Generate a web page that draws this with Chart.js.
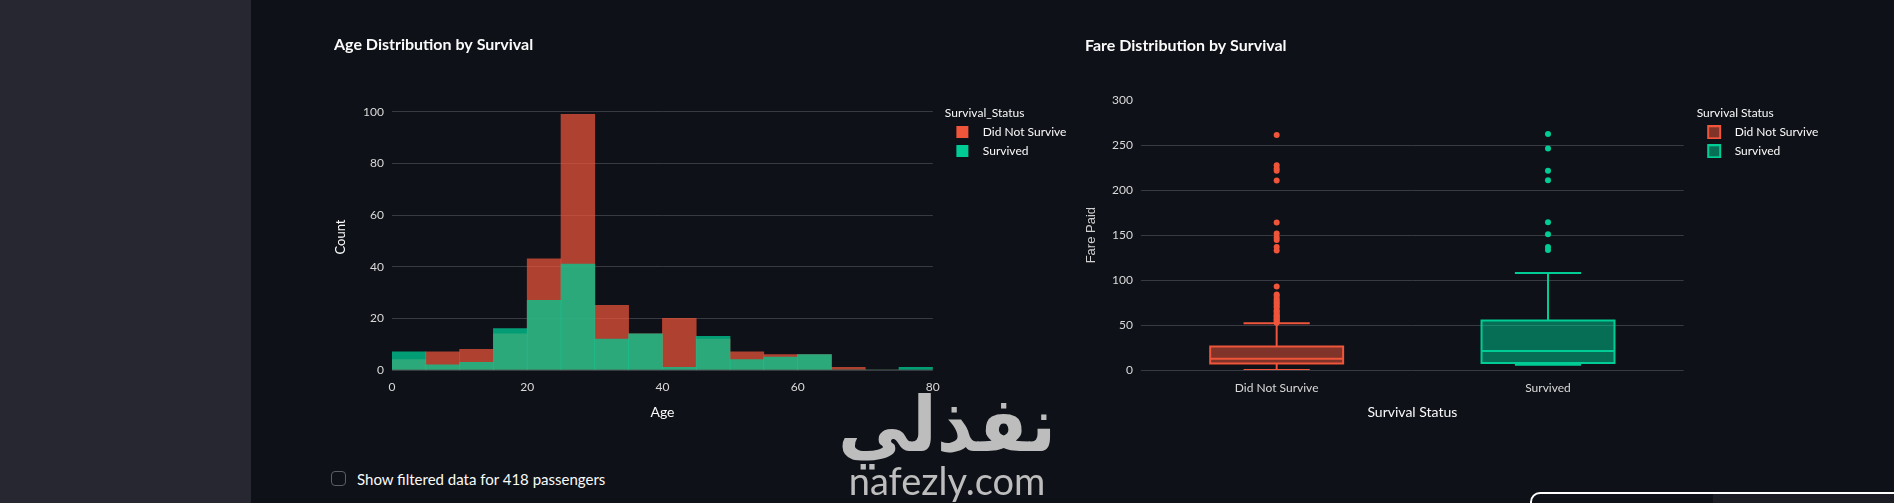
<!DOCTYPE html>
<html>
<head>
<meta charset="utf-8">
<script src="https://cdn.jsdelivr.net/npm/chart.js@4.4.0/dist/chart.umd.min.js"></script>
<style>
  html, body { margin: 0; padding: 0; width: 1894px; height: 503px; overflow: hidden; background: #0e1117; font-family: Lato, "Open Sans", sans-serif; }
  #sidebar { position: absolute; left: 0; top: 0; width: 251px; height: 503px; background: #262730; }
  #ageChart { position: absolute; left: 334px; top: 20px; }
  #fareChart { position: absolute; left: 1085px; top: 20px; }
  .chk { position: absolute; left: 331px; top: 471px; width: 13px; height: 13px; border: 1px solid #5b5e67; border-radius: 4px; }
  .chk-label { position: absolute; left: 357px; top: 469px; font-size: 15px; line-height: 20px; color: #fafafa; }
  .wm-ar { position: absolute; left: 797px; width: 300px; top: 397px; text-align: center; font-family: "DejaVu Sans", sans-serif; font-weight: bold; font-size: 62px; line-height: 1; color: #bdbdbd; transform: scale(1.15, 1.23); transform-origin: 50% 42px; }
  .wm-en { position: absolute; left: 797px; width: 300px; top: 461px; text-align: center; font-family: Lato, sans-serif; font-size: 38px; line-height: 1; color: #bdbdbd; }
  .panel { position: absolute; left: 1530px; top: 492px; width: 370px; height: 30px; border: 2px solid #ffffff; border-radius: 10px; background: linear-gradient(to right, #0e1117 181px, #1c1d24 181px); }
</style>
</head>
<body>
<div id="sidebar"></div>
<canvas id="ageChart" width="733" height="420"></canvas>
<canvas id="fareChart" width="734" height="420"></canvas>
<div class="chk"></div>
<div class="chk-label">Show filtered data for 418 passengers</div>
<div class="wm-ar">نفذلي</div>
<div class="wm-en">nafezly.com</div>
<div class="panel"></div>
<script>
// age histogram (counts per 5-year bin)
const ageBinStart = [0, 5, 10, 15, 20, 25, 30, 35, 40, 45, 50, 55, 60, 65, 70, 75];
const ageBinWidth = 5;
const ageDied = [4, 7, 8, 14, 43, 99, 25, 14, 20, 12, 7, 6, 6, 1, 0, 0];
const ageSurvived = [7, 2, 3, 16, 27, 41, 12, 14, 1, 13, 4, 5, 6, 0, 0, 1];
const ageTicks = [0, 20, 40, 60, 80];
const countTicks = [0, 20, 40, 60, 80, 100];

// fare box plot
const fareGroups = ['Did Not Survive', 'Survived'];
const fareLower = [0, 5.8];
const fareQ1 = [7.3, 7.8];
const fareMedian = [12.6, 21];
const fareQ3 = [26.1, 55];
const fareUpper = [51.9, 108];
const fareOutDied = [261.5, 227.8, 224.1, 221.5, 210.7, 164.2, 151.8, 147.5, 144.5, 136.8, 133,
  92.8, 84, 82.3, 79.2, 77.3, 75.2, 73.5, 71.3, 69.6, 66.6, 65, 63.4, 61.4, 60, 59.4, 57.8, 56.5, 55.4, 53.1, 52.6];
const fareOutSurvived = [262.4, 246.5, 221.5, 211, 164.4, 151, 136.8, 133.5];
const fareTicks = [0, 50, 100, 150, 200, 250, 300];

const FONT = 'Lato, "Open Sans", sans-serif';
const RED = '#ef553b';
const GREEN = '#00cc96';
const TICK = '#d9d9d9';
const TXT = '#fafafa';
const GRID = '#383b43';

Chart.defaults.font.family = FONT;

function swatch(fill, stroke, offset, size) {
  const c = document.createElement('canvas');
  c.width = 26;
  c.height = size;
  const g = c.getContext('2d');
  g.fillStyle = fill;
  g.fillRect(offset, 0, size, size);
  if (stroke) {
    g.strokeStyle = stroke;
    g.lineWidth = 2;
    g.strokeRect(offset + 1, 1, size - 2, size - 2);
  }
  return c;
}

function legendOpts(title, titleTop, items) {
  return {
    position: 'right',
    align: 'start',
    fullSize: false,
    title: { display: true, text: title, position: 'start', color: TXT, font: { size: 12, lineHeight: 1 }, padding: { top: titleTop, bottom: 0 } },
    labels: { usePointStyle: true, pointStyleWidth: 25, padding: 7, color: TXT, font: { size: 12 }, generateLabels: () => items },
  };
}

function gapAxis(w) {
  return {
    position: 'right', display: true,
    ticks: { display: false }, grid: { display: false, drawTicks: false }, border: { display: false },
    afterFit: (s) => { s.width = w; },
  };
}

// ---------- histogram ----------
const binCenter = ageBinStart.map((s) => s + ageBinWidth / 2);
const ageLegend = [
  { text: 'Did Not Survive', fillStyle: RED, strokeStyle: RED, lineWidth: 0, hidden: false, datasetIndex: 0, fontColor: TXT, pointStyle: swatch(RED, null, 5, 12) },
  { text: 'Survived', fillStyle: GREEN, strokeStyle: GREEN, lineWidth: 0, hidden: false, datasetIndex: 1, fontColor: TXT, pointStyle: swatch(GREEN, null, 5, 12) },
];

new Chart(document.getElementById('ageChart'), {
  type: 'bar',
  data: {
    datasets: [
      {
        label: 'Did Not Survive',
        data: binCenter.map((x, i) => ({ x, y: ageDied[i] })),
        backgroundColor: 'rgba(239, 85, 59, 0.72)',
        borderWidth: 0, grouped: false, barPercentage: 1, categoryPercentage: 1,
        order: 2, xAxisID: 'x', yAxisID: 'y',
      },
      {
        label: 'Survived',
        data: binCenter.map((x, i) => ({ x, y: ageSurvived[i] })),
        backgroundColor: 'rgba(0, 204, 150, 0.75)',
        borderWidth: 0, grouped: false, barPercentage: 1, categoryPercentage: 1,
        order: 1, xAxisID: 'x', yAxisID: 'y',
      },
    ],
  },
  options: {
    responsive: false, animation: false, devicePixelRatio: 1,
    layout: { padding: 0 },
    plugins: {
      tooltip: { enabled: false },
      title: { display: true, text: 'Age Distribution by Survival', align: 'start', color: TXT, font: { size: 16, weight: 'bold' }, padding: { top: 15.4, bottom: 49.4 } },
      legend: legendOpts('Survival_Status', 3, ageLegend),
    },
    scales: {
      x: {
        type: 'linear', min: 0, max: 80, offset: false,
        afterBuildTicks: (s) => { s.ticks = ageTicks.map((v) => ({ value: v })); },
        ticks: { color: TICK, font: { size: 12 }, padding: 10, maxRotation: 0 },
        grid: { display: false, drawTicks: false, offset: false }, border: { display: false },
        title: { display: true, text: 'Age', color: TXT, font: { size: 14, lineHeight: 1 }, padding: { top: 0, bottom: 21 } },
        afterFit: (s) => { s.height = 70; },
      },
      y: {
        type: 'linear', min: 0, max: 103,
        afterBuildTicks: (s) => { s.ticks = countTicks.map((v) => ({ value: v })); },
        ticks: { color: TICK, font: { size: 12 }, padding: 8 },
        grid: { color: GRID, drawTicks: false }, border: { display: false },
        title: { display: true, text: 'Count', color: TXT, font: { size: 13, lineHeight: 1 }, padding: { top: 0, bottom: 0 } },
        afterFit: (s) => { s.width = 58; },
      },
      gap: gapAxis(12),
    },
  },
});

// ---------- box plot ----------
const BOX_HALF = 0.245;
const CAP_HALF = 0.122;
const groupColors = [
  { line: RED, fill: 'rgba(239, 85, 59, 0.5)' },
  { line: GREEN, fill: 'rgba(0, 204, 150, 0.5)' },
];
const outliers = [fareOutDied, fareOutSurvived];

const outlierSets = fareGroups.map((name, g) => ({
  label: name + ' outliers',
  data: outliers[g].map((v) => ({ x: g, y: v })),
  pointRadius: 3, pointBackgroundColor: groupColors[g].line, pointBorderWidth: 0, showLine: false,
}));

const lineSets = fareGroups.map((name, g) => ({
  label: name + ' whiskers',
  data: [
    { x: g, y: fareQ3[g] }, { x: g, y: fareUpper[g] }, { x: g, y: null },
    { x: g - CAP_HALF, y: fareUpper[g] }, { x: g + CAP_HALF, y: fareUpper[g] }, { x: g, y: null },
    { x: g, y: fareLower[g] }, { x: g, y: fareQ1[g] }, { x: g, y: null },
    { x: g - CAP_HALF, y: fareLower[g] }, { x: g + CAP_HALF, y: fareLower[g] }, { x: g, y: null },
    { x: g - BOX_HALF, y: fareMedian[g] }, { x: g + BOX_HALF, y: fareMedian[g] },
  ],
  showLine: true, spanGaps: false, borderColor: groupColors[g].line, borderWidth: 2, pointRadius: 0, fill: false,
}));

const boxSets = fareGroups.map((name, g) => ({
  label: name,
  data: [
    { x: g - BOX_HALF, y: fareQ1[g] }, { x: g + BOX_HALF, y: fareQ1[g] },
    { x: g + BOX_HALF, y: fareQ3[g] }, { x: g - BOX_HALF, y: fareQ3[g] },
    { x: g - BOX_HALF, y: fareQ1[g] },
  ],
  showLine: true, fill: 'shape', backgroundColor: groupColors[g].fill, borderColor: groupColors[g].line,
  borderWidth: 2, borderCapStyle: 'square', borderJoinStyle: 'miter', pointRadius: 0,
}));

const fareLegend = fareGroups.map((name, g) => ({
  text: name, fillStyle: groupColors[g].fill, strokeStyle: groupColors[g].line, lineWidth: 0, hidden: false,
  datasetIndex: 4 + g, fontColor: TXT, pointStyle: swatch(groupColors[g].fill, groupColors[g].line, 4, 14),
}));

new Chart(document.getElementById('fareChart'), {
  type: 'scatter',
  data: { datasets: [...outlierSets, ...lineSets, ...boxSets].map((d) => Object.assign(d, { xAxisID: 'x', yAxisID: 'y' })) },
  options: {
    responsive: false, animation: false, devicePixelRatio: 1,
    layout: { padding: 0 },
    plugins: {
      tooltip: { enabled: false },
      title: { display: true, text: 'Fare Distribution by Survival', align: 'start', color: TXT, font: { size: 16, weight: 'bold' }, padding: { top: 16.4, bottom: 44.7 } },
      legend: legendOpts('Survival Status', 7, fareLegend),
    },
    scales: {
      x: {
        type: 'linear', min: -0.5, max: 1.5, offset: false,
        afterBuildTicks: (s) => { s.ticks = fareGroups.map((_, i) => ({ value: i })); },
        ticks: { color: TICK, font: { size: 12 }, padding: 11, maxRotation: 0, callback: (v) => fareGroups[v] ?? '' },
        grid: { display: false, drawTicks: false }, border: { display: false },
        title: { display: true, text: 'Survival Status', color: TXT, font: { size: 14, lineHeight: 1 }, padding: { top: 0, bottom: 21 } },
        afterFit: (s) => { s.height = 70; },
      },
      y: {
        type: 'linear', min: 0, max: 300,
        afterBuildTicks: (s) => { s.ticks = fareTicks.map((v) => ({ value: v })); },
        ticks: { color: TICK, font: { size: 12 }, padding: 8 },
        grid: { color: (c) => (c.tick && c.tick.value === 300 ? 'rgba(0,0,0,0)' : GRID), drawTicks: false }, border: { display: false },
        title: { display: true, text: 'Fare Paid', color: '#cfcfcf', font: { family: '"Liberation Sans", Arial, sans-serif', size: 13, lineHeight: 1 }, padding: { top: 0, bottom: 0 } },
        afterFit: (s) => { s.width = 56; },
      },
      gap: gapAxis(13),
    },
  },
});
</script>
</body>
</html>
